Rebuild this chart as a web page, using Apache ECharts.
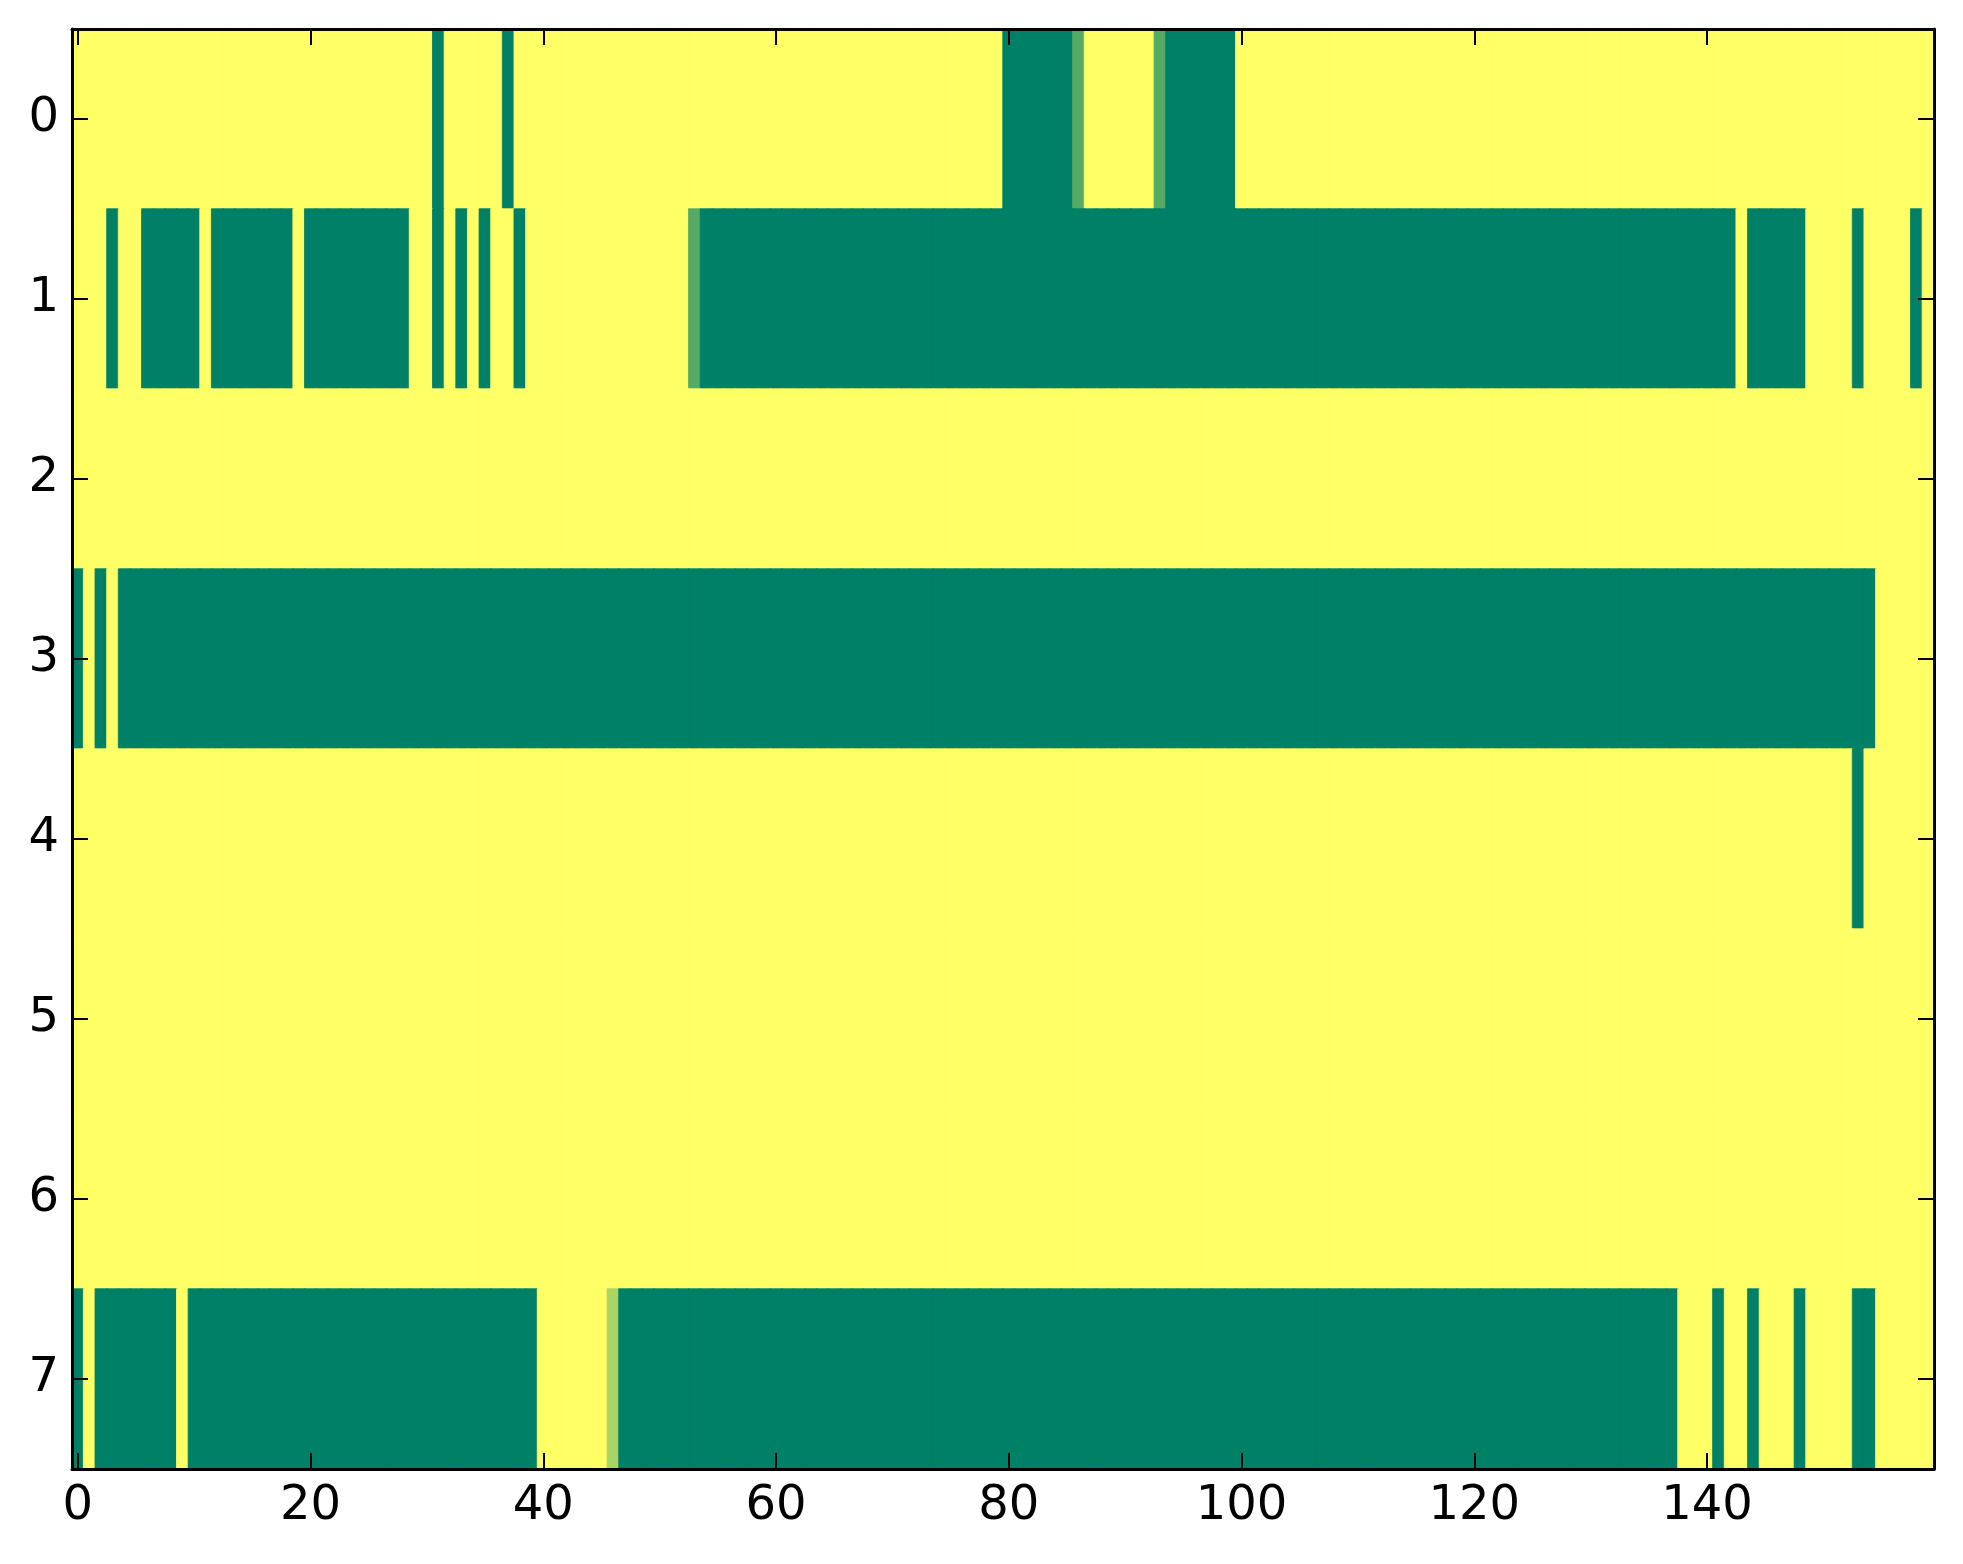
<!DOCTYPE html>
<html>
<head>
<meta charset="utf-8">
<script src="https://cdn.jsdelivr.net/npm/echarts@6/dist/echarts.min.js"></script>
<style>
html,body{margin:0;padding:0;background:#fff;}
#chart{width:1963px;height:1564px;}
</style>
</head>
<body>
<div id="chart"></div>
<script>
// Column categories 0..159 and row categories 0..7
const columns = [
  0,1,2,3,4,5,6,7,8,9,10,11,12,13,14,15,16,17,18,19,
  20,21,22,23,24,25,26,27,28,29,30,31,32,33,34,35,36,37,38,39,
  40,41,42,43,44,45,46,47,48,49,50,51,52,53,54,55,56,57,58,59,
  60,61,62,63,64,65,66,67,68,69,70,71,72,73,74,75,76,77,78,79,
  80,81,82,83,84,85,86,87,88,89,90,91,92,93,94,95,96,97,98,99,
  100,101,102,103,104,105,106,107,108,109,110,111,112,113,114,115,116,117,118,119,
  120,121,122,123,124,125,126,127,128,129,130,131,132,133,134,135,136,137,138,139,
  140,141,142,143,144,145,146,147,148,149,150,151,152,153,154,155,156,157,158,159
];
const rowLabels = [0,1,2,3,4,5,6,7];
const xTickLabels = [0,20,40,60,80,100,120,140];

// Cell values per row (0 = dark green ... 3 = yellow)
const row0 = [
  3,3,3,3,3,3,3,3,3,3, 3,3,3,3,3,3,3,3,3,3, 3,3,3,3,3,3,3,3,3,3, 3,0,3,3,3,3,3,0,3,3,
  3,3,3,3,3,3,3,3,3,3, 3,3,3,3,3,3,3,3,3,3, 3,3,3,3,3,3,3,3,3,3, 3,3,3,3,3,3,3,3,3,3,
  0,0,0,0,0,0,1,3,3,3, 3,3,3,1,0,0,0,0,0,0, 3,3,3,3,3,3,3,3,3,3, 3,3,3,3,3,3,3,3,3,3,
  3,3,3,3,3,3,3,3,3,3, 3,3,3,3,3,3,3,3,3,3, 3,3,3,3,3,3,3,3,3,3, 3,3,3,3,3,3,3,3,3,3
];
const row1 = [
  3,3,3,0,3,3,0,0,0,0, 0,3,0,0,0,0,0,0,0,3, 0,0,0,0,0,0,0,0,0,3, 3,0,3,0,3,0,3,3,0,3,
  3,3,3,3,3,3,3,3,3,3, 3,3,3,1,0,0,0,0,0,0, 0,0,0,0,0,0,0,0,0,0, 0,0,0,0,0,0,0,0,0,0,
  0,0,0,0,0,0,0,0,0,0, 0,0,0,0,0,0,0,0,0,0, 0,0,0,0,0,0,0,0,0,0, 0,0,0,0,0,0,0,0,0,0,
  0,0,0,0,0,0,0,0,0,0, 0,0,0,0,0,0,0,0,0,0, 0,0,0,3,0,0,0,0,0,3, 3,3,3,0,3,3,3,3,0,3
];
const row2 = [
  3,3,3,3,3,3,3,3,3,3, 3,3,3,3,3,3,3,3,3,3, 3,3,3,3,3,3,3,3,3,3, 3,3,3,3,3,3,3,3,3,3,
  3,3,3,3,3,3,3,3,3,3, 3,3,3,3,3,3,3,3,3,3, 3,3,3,3,3,3,3,3,3,3, 3,3,3,3,3,3,3,3,3,3,
  3,3,3,3,3,3,3,3,3,3, 3,3,3,3,3,3,3,3,3,3, 3,3,3,3,3,3,3,3,3,3, 3,3,3,3,3,3,3,3,3,3,
  3,3,3,3,3,3,3,3,3,3, 3,3,3,3,3,3,3,3,3,3, 3,3,3,3,3,3,3,3,3,3, 3,3,3,3,3,3,3,3,3,3
];
const row3 = [
  0,3,0,3,0,0,0,0,0,0, 0,0,0,0,0,0,0,0,0,0, 0,0,0,0,0,0,0,0,0,0, 0,0,0,0,0,0,0,0,0,0,
  0,0,0,0,0,0,0,0,0,0, 0,0,0,0,0,0,0,0,0,0, 0,0,0,0,0,0,0,0,0,0, 0,0,0,0,0,0,0,0,0,0,
  0,0,0,0,0,0,0,0,0,0, 0,0,0,0,0,0,0,0,0,0, 0,0,0,0,0,0,0,0,0,0, 0,0,0,0,0,0,0,0,0,0,
  0,0,0,0,0,0,0,0,0,0, 0,0,0,0,0,0,0,0,0,0, 0,0,0,0,0,0,0,0,0,0, 0,0,0,0,0,3,3,3,3,3
];
const row4 = [
  3,3,3,3,3,3,3,3,3,3, 3,3,3,3,3,3,3,3,3,3, 3,3,3,3,3,3,3,3,3,3, 3,3,3,3,3,3,3,3,3,3,
  3,3,3,3,3,3,3,3,3,3, 3,3,3,3,3,3,3,3,3,3, 3,3,3,3,3,3,3,3,3,3, 3,3,3,3,3,3,3,3,3,3,
  3,3,3,3,3,3,3,3,3,3, 3,3,3,3,3,3,3,3,3,3, 3,3,3,3,3,3,3,3,3,3, 3,3,3,3,3,3,3,3,3,3,
  3,3,3,3,3,3,3,3,3,3, 3,3,3,3,3,3,3,3,3,3, 3,3,3,3,3,3,3,3,3,3, 3,3,3,0,3,3,3,3,3,3
];
const row5 = [
  3,3,3,3,3,3,3,3,3,3, 3,3,3,3,3,3,3,3,3,3, 3,3,3,3,3,3,3,3,3,3, 3,3,3,3,3,3,3,3,3,3,
  3,3,3,3,3,3,3,3,3,3, 3,3,3,3,3,3,3,3,3,3, 3,3,3,3,3,3,3,3,3,3, 3,3,3,3,3,3,3,3,3,3,
  3,3,3,3,3,3,3,3,3,3, 3,3,3,3,3,3,3,3,3,3, 3,3,3,3,3,3,3,3,3,3, 3,3,3,3,3,3,3,3,3,3,
  3,3,3,3,3,3,3,3,3,3, 3,3,3,3,3,3,3,3,3,3, 3,3,3,3,3,3,3,3,3,3, 3,3,3,3,3,3,3,3,3,3
];
const row6 = [
  3,3,3,3,3,3,3,3,3,3, 3,3,3,3,3,3,3,3,3,3, 3,3,3,3,3,3,3,3,3,3, 3,3,3,3,3,3,3,3,3,3,
  3,3,3,3,3,3,3,3,3,3, 3,3,3,3,3,3,3,3,3,3, 3,3,3,3,3,3,3,3,3,3, 3,3,3,3,3,3,3,3,3,3,
  3,3,3,3,3,3,3,3,3,3, 3,3,3,3,3,3,3,3,3,3, 3,3,3,3,3,3,3,3,3,3, 3,3,3,3,3,3,3,3,3,3,
  3,3,3,3,3,3,3,3,3,3, 3,3,3,3,3,3,3,3,3,3, 3,3,3,3,3,3,3,3,3,3, 3,3,3,3,3,3,3,3,3,3
];
const row7 = [
  0,3,0,0,0,0,0,0,0,3, 0,0,0,0,0,0,0,0,0,0, 0,0,0,0,0,0,0,0,0,0, 0,0,0,0,0,0,0,0,0,0,
  3,3,3,3,3,3,2,0,0,0, 0,0,0,0,0,0,0,0,0,0, 0,0,0,0,0,0,0,0,0,0, 0,0,0,0,0,0,0,0,0,0,
  0,0,0,0,0,0,0,0,0,0, 0,0,0,0,0,0,0,0,0,0, 0,0,0,0,0,0,0,0,0,0, 0,0,0,0,0,0,0,0,0,0,
  0,0,0,0,0,0,0,0,0,0, 0,0,0,0,0,0,0,0,3,3, 3,0,3,3,0,3,3,3,0,3, 3,3,3,0,0,3,3,3,3,3
];
const rows = [row0, row1, row2, row3, row4, row5, row6, row7];

// summer colormap sampled at values 0..3 (style only)
const palette = ['#008066', '#55aa66', '#aad466', '#ffff66'];

const cells = [];
rows.forEach(function (r, yi) {
  r.forEach(function (v, xi) {
    cells.push({ value: [xi, yi, v], itemStyle: { borderColor: palette[v], borderWidth: 0.8 } });
  });
});

const isXTick = function (idx) { return xTickLabels.indexOf(columns[idx]) >= 0; };
const FONT = 'DejaVu Sans';
const lineStyle = { color: '#000', width: 3 };

const chart = echarts.init(document.getElementById('chart'), null, { renderer: 'canvas' });
chart.setOption({
  animation: false,
  backgroundColor: '#fff',
  grid: { left: 72, top: 29, width: 1862, height: 1440, containLabel: false },
  xAxis: [
    {
      type: 'category', data: columns, position: 'bottom', z: 10,
      axisLine: { show: true, lineStyle: lineStyle },
      axisTick: { show: true, inside: true, length: 16, alignWithLabel: true, interval: isXTick, lineStyle: { color: '#000', width: 2 } },
      axisLabel: { interval: isXTick, fontFamily: FONT, fontSize: 48, color: '#000', margin: 14 },
      splitLine: { show: false }
    },
    {
      type: 'category', data: columns, position: 'top', z: 10,
      axisLine: { show: true, lineStyle: lineStyle },
      axisTick: { show: true, inside: true, length: 16, alignWithLabel: true, interval: isXTick, lineStyle: { color: '#000', width: 2 } },
      axisLabel: { show: false },
      splitLine: { show: false }
    }
  ],
  yAxis: [
    {
      type: 'category', data: rowLabels, inverse: true, position: 'left', z: 10,
      axisLine: { show: true, lineStyle: lineStyle },
      axisTick: { show: true, inside: true, length: 16, alignWithLabel: true, lineStyle: { color: '#000', width: 2 } },
      axisLabel: { fontFamily: FONT, fontSize: 48, color: '#000', margin: 13 },
      splitLine: { show: false }
    },
    {
      type: 'category', data: rowLabels, inverse: true, position: 'right', z: 10,
      axisLine: { show: true, lineStyle: lineStyle },
      axisTick: { show: true, inside: true, length: 16, alignWithLabel: true, lineStyle: { color: '#000', width: 2 } },
      axisLabel: { show: false },
      splitLine: { show: false }
    }
  ],
  visualMap: {
    show: false, type: 'continuous', min: 0, max: 3, dimension: 2,
    inRange: { color: ['#008066', '#ffff66'] }
  },
  series: [{
    type: 'heatmap', xAxisIndex: 0, yAxisIndex: 0,
    data: cells, progressive: 0,
    emphasis: { disabled: true }
  }]
});
</script>
</body>
</html>
